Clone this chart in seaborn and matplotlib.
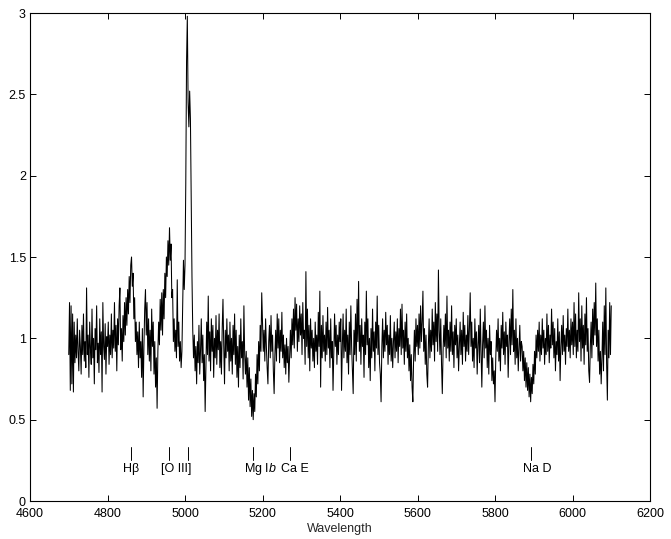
import numpy as np
import pandas as pd
import matplotlib
matplotlib.use("Agg")
import matplotlib.pyplot as plt
from matplotlib.ticker import FuncFormatter
import seaborn as sns

sns.set_theme(style="ticks")
plt.rcParams["font.family"] = ["Liberation Sans", "DejaVu Sans"]
plt.rcParams["mathtext.fontset"] = "custom"
plt.rcParams["mathtext.rm"] = "Liberation Sans"
plt.rcParams["mathtext.it"] = "Liberation Sans:italic"

# normalised flux, sampled every 2 A, one list per 100 A block
step = 2
flux_4700 = [0.90, 1.22, 0.68, 1.20, 0.72, 1.15, 0.67, 1.10, 0.85, 1.02, 0.88, 1.12, 0.92, 0.80, 1.05, 0.95, 0.78,
             1.08, 0.90, 1.15, 0.86, 0.98, 0.82, 1.31, 0.90, 1.02, 0.76, 1.10, 0.94, 0.84, 1.18, 0.88, 1.00, 0.72,
             1.06, 0.93, 1.20, 0.85, 0.97, 0.79, 1.12, 0.90, 1.04, 0.67, 1.22, 0.95, 0.87, 1.09, 0.78, 1.01]
flux_4800 = [0.95, 1.10, 0.84, 1.02, 0.90, 1.15, 0.88, 1.05, 0.94, 1.22, 0.92, 1.08, 0.80, 1.12, 0.96, 1.20, 1.31,
             0.93, 1.06, 0.86, 1.14, 0.98, 1.22, 1.02, 1.25, 1.08, 1.30, 1.15, 1.38, 1.22, 1.45, 1.50, 1.32, 1.40,
             1.12, 1.25, 0.98, 1.10, 0.90, 1.04, 0.82, 1.10, 0.88, 0.98, 0.76, 1.06, 0.64, 0.95, 1.18, 1.30]
flux_4900 = [1.02, 1.22, 0.90, 1.12, 0.86, 1.05, 0.80, 1.18, 0.95, 1.10, 0.78, 0.98, 0.70, 0.88, 0.57, 0.92, 1.10,
             0.96, 1.24, 1.05, 1.28, 1.02, 1.30, 1.12, 1.40, 1.25, 1.50, 1.38, 1.60, 1.45, 1.68, 1.48, 1.58, 1.25,
             1.30, 0.98, 1.12, 0.92, 1.05, 0.88, 1.36, 0.95, 1.10, 0.86, 0.98, 0.82, 0.92, 1.20, 1.48, 1.30]
flux_5000 = [1.45, 1.95, 2.70, 2.98, 2.45, 2.30, 2.52, 2.35, 1.85, 1.38, 1.05, 0.88, 1.02, 0.80, 0.95, 0.72, 0.98,
             0.85, 1.08, 0.78, 0.92, 1.12, 0.85, 1.02, 0.74, 0.90, 0.55, 0.82, 1.10, 0.90, 1.26, 0.86, 1.04, 0.80,
             1.12, 0.92, 1.08, 0.76, 1.00, 0.88, 1.14, 0.84, 1.05, 0.93, 1.15, 0.82, 0.98, 0.78, 1.06, 1.24]
flux_5100 = [0.95, 0.72, 1.05, 0.88, 1.12, 0.92, 1.02, 0.80, 1.10, 0.86, 1.00, 0.78, 1.08, 0.90, 1.15, 0.84, 1.05,
             0.76, 0.95, 0.70, 1.02, 0.82, 1.12, 0.88, 0.98, 0.75, 1.20, 0.90, 0.78, 0.92, 0.70, 0.88, 0.62, 0.82,
             0.58, 0.75, 0.52, 0.68, 0.50, 0.66, 0.55, 0.78, 0.64, 0.90, 0.72, 0.98, 0.80, 1.08, 0.92, 1.28]
flux_5200 = [1.10, 0.92, 1.05, 0.86, 1.12, 0.95, 0.82, 0.72, 0.98, 1.08, 0.88, 1.14, 0.92, 1.02, 0.80, 0.66, 0.90,
             1.05, 0.86, 1.15, 0.94, 1.12, 0.85, 1.05, 0.92, 1.16, 0.88, 1.02, 0.82, 0.96, 0.78, 1.00, 0.85, 0.95,
             0.73, 0.90, 1.05, 0.88, 1.12, 0.96, 1.18, 0.94, 1.25, 1.05, 1.21, 0.92, 1.12, 0.98, 1.20, 1.02]
flux_5300 = [1.15, 0.90, 1.22, 1.00, 1.05, 0.84, 1.41, 0.95, 1.18, 0.88, 1.08, 0.80, 1.12, 0.94, 1.05, 0.86, 1.00,
             0.82, 1.10, 0.92, 1.02, 0.84, 1.16, 0.95, 1.29, 0.70, 1.08, 0.88, 1.14, 0.92, 1.02, 0.86, 1.10, 0.90,
             1.19, 0.94, 1.05, 0.82, 1.12, 0.88, 0.98, 0.68, 0.92, 1.15, 0.95, 1.08, 0.84, 1.02, 0.90, 1.10]
flux_5400 = [0.98, 1.12, 0.68, 0.95, 1.15, 0.88, 1.05, 0.92, 1.18, 0.85, 1.02, 0.78, 1.10, 0.90, 1.20, 0.95, 0.80,
             0.66, 1.05, 0.90, 1.15, 0.86, 1.24, 0.98, 1.35, 0.92, 1.08, 0.84, 1.12, 0.95, 1.02, 0.76, 1.10, 0.90,
             1.29, 0.96, 1.12, 0.82, 1.00, 0.74, 1.06, 0.88, 1.18, 0.92, 1.04, 0.80, 1.10, 0.94, 1.26, 0.90]
flux_5500 = [1.08, 0.85, 0.78, 0.61, 0.95, 1.12, 0.88, 1.05, 0.92, 1.16, 0.96, 1.08, 0.84, 1.02, 0.90, 1.14, 0.86,
             1.00, 0.82, 0.98, 1.10, 0.88, 1.04, 0.92, 1.12, 0.85, 1.06, 0.95, 1.18, 0.90, 1.21, 0.94, 1.05, 0.84,
             1.10, 0.92, 1.15, 0.88, 1.00, 0.80, 0.96, 0.74, 0.90, 0.70, 0.61, 0.88, 1.05, 0.86, 1.12, 0.95]
flux_5600 = [1.08, 0.90, 1.15, 0.94, 1.20, 0.98, 1.10, 1.29, 0.92, 1.06, 0.84, 1.02, 0.78, 0.70, 0.95, 1.12, 0.88,
             1.05, 0.92, 1.18, 0.96, 1.10, 0.86, 1.22, 0.98, 1.15, 0.92, 1.42, 1.05, 0.90, 1.12, 0.84, 0.66, 0.92,
             1.08, 0.95, 1.15, 0.88, 1.26, 0.94, 1.05, 0.86, 1.10, 0.92, 1.20, 0.90, 1.04, 0.82, 1.08, 0.96]
flux_5700 = [1.12, 0.88, 1.02, 0.80, 0.96, 1.10, 0.90, 1.05, 0.84, 1.16, 0.95, 1.08, 0.86, 1.02, 0.92, 1.14, 0.90,
             1.06, 1.28, 0.95, 1.10, 0.86, 1.00, 0.82, 1.12, 0.94, 1.04, 0.78, 0.96, 1.08, 0.85, 1.18, 0.92, 0.70,
             0.96, 1.10, 0.88, 1.20, 0.94, 1.05, 0.82, 1.00, 0.78, 1.08, 0.90, 0.98, 0.74, 0.88, 0.72, 0.80]
flux_5800 = [0.61, 0.88, 1.05, 0.92, 1.12, 0.86, 1.00, 0.80, 1.08, 0.94, 1.16, 0.90, 1.04, 0.84, 1.10, 0.95, 1.02,
             0.76, 0.98, 1.12, 0.90, 1.18, 0.96, 1.30, 0.92, 1.05, 0.84, 1.12, 0.88, 1.00, 0.80, 0.95, 1.08, 0.86,
             0.98, 0.95, 0.80, 0.92, 0.74, 0.88, 0.70, 0.85, 0.68, 0.82, 0.64, 0.78, 0.61, 0.76, 0.66, 0.84]
flux_5900 = [0.72, 0.92, 0.78, 1.02, 0.88, 1.05, 0.92, 1.10, 0.86, 1.02, 0.90, 1.12, 0.94, 1.05, 0.84, 1.00, 0.90,
             1.15, 0.92, 1.08, 0.85, 1.02, 0.94, 1.18, 0.96, 1.10, 0.88, 1.06, 0.80, 0.98, 0.90, 1.12, 0.86, 1.04,
             0.74, 0.95, 1.08, 0.90, 1.14, 0.92, 1.02, 0.84, 1.06, 0.95, 1.18, 0.92, 1.05, 0.88, 1.12, 0.96]
flux_6000 = [1.10, 0.90, 1.22, 0.95, 1.15, 0.88, 1.05, 0.92, 1.28, 0.98, 1.12, 0.86, 1.20, 0.94, 1.08, 0.84, 1.15,
             0.96, 1.25, 0.92, 1.06, 0.80, 0.73, 0.95, 1.10, 0.88, 1.18, 0.96, 1.22, 1.02, 1.34, 0.95, 1.12, 0.86,
             1.05, 0.78, 0.92, 0.72, 0.88, 1.10, 0.80, 1.20, 0.90, 1.31, 0.85, 0.62, 1.05, 0.88, 1.22, 0.90, 1.20]

blocks = {4700: flux_4700, 4800: flux_4800, 4900: flux_4900, 5000: flux_5000, 5100: flux_5100,
          5200: flux_5200, 5300: flux_5300, 5400: flux_5400, 5500: flux_5500, 5600: flux_5600,
          5700: flux_5700, 5800: flux_5800, 5900: flux_5900, 6000: flux_6000}

# spectral features marked under the spectrum
line_labels = ["H\u03b2", "[O III]", "Mg I$\\mathit{b}$", "Ca E", "Na D"]
line_waves = [[4861], [4959, 5007], [5175], [5270], [5893]]

rows = []
for start, vals in blocks.items():
    for i, v in enumerate(vals):
        rows.append((start + step * i, v))
df = pd.DataFrame(rows, columns=["wave", "flux"])

fig = plt.figure(figsize=(6.71, 5.39), dpi=100)
ax = fig.add_axes([30 / 671, 38 / 539, 620 / 671, 488 / 539])
sns.lineplot(data=df, x="wave", y="flux", estimator=None, color="black", lw=0.75, ax=ax)

for label, waves in zip(line_labels, line_waves):
    for w in waves:
        ax.plot([w, w], [0.25, 0.33], color="black", lw=0.7)
    ax.text(waves[0] - 22, 0.195, label, ha="left", va="center", fontsize=9, color="black")

ax.set_xlim(4600, 6200)
ax.set_ylim(0, 3)
ax.set_xticks(np.arange(4600, 6201, 200))
ax.set_yticks(np.arange(0, 3.01, 0.5))
ax.yaxis.set_major_formatter(FuncFormatter(lambda v, p: "%g" % v))
ax.set_xlabel("Wavelength", fontsize=9, labelpad=2)
ax.set_ylabel("")
ax.tick_params(direction="in", top=True, right=True, length=4, width=0.7, labelsize=9, pad=2, colors="black")
ax.tick_params(axis="x", pad=5)
ax.tick_params(axis="y", pad=3)
for s in ax.spines.values():
    s.set_visible(True)
    s.set_color("black")
    s.set_linewidth(0.8)

fig.savefig("out.png", dpi=100)
